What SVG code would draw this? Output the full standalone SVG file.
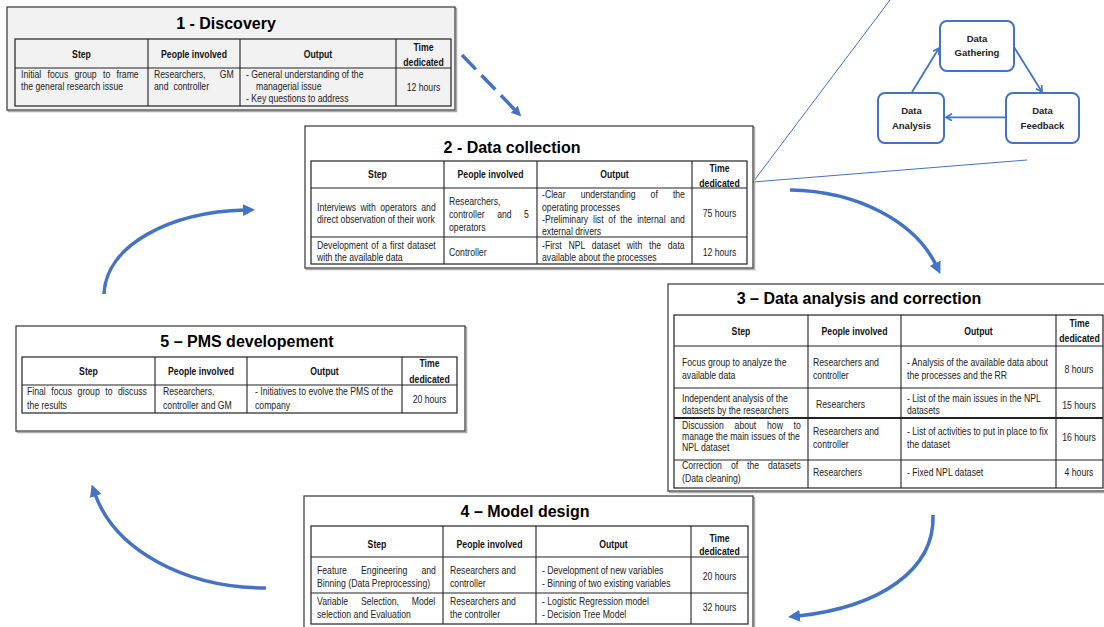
<svg xmlns="http://www.w3.org/2000/svg" width="1104" height="627" viewBox="0 0 1104 627">
<style>
text{font-family:"Liberation Sans",Arial,sans-serif}
.outer{fill:#fff;stroke:#444;stroke-width:1.3}
.shadow{fill:none;stroke:#aaa;stroke-width:1.5}
.tbl{fill:none;stroke:#222;stroke-width:1.2}
.ln{stroke:#222;stroke-width:1.1}
.ttl{font-weight:bold;font-size:16px;text-anchor:middle;fill:#000}
.th{font-weight:bold;font-size:10.2px;text-anchor:middle;fill:#111}
.td{font-size:10.2px;fill:#222}
.tc{text-anchor:middle}
.cyc{fill:#fff;stroke:#4472c4;stroke-width:2}
.ct{font-weight:bold;font-size:9.5px;text-anchor:middle;fill:#222}
.arr{fill:none;stroke:#4472c4;stroke-width:3.5}
.thin{fill:none;stroke:#4472c4;stroke-width:1.8}
.zoom{fill:none;stroke:#4472c4;stroke-width:1}
</style>
<defs>
<marker id="ah" markerUnits="userSpaceOnUse" markerWidth="12" markerHeight="12" refX="2" refY="6" orient="auto"><path d="M0,0 L12,6 L0,12 z" fill="#4472c4"/></marker>
<marker id="ah2" markerUnits="userSpaceOnUse" markerWidth="10" markerHeight="10" refX="1" refY="5" orient="auto"><path d="M0,0 L10,5 L0,10 z" fill="#4472c4"/></marker>
<marker id="ah3" markerUnits="userSpaceOnUse" markerWidth="9" markerHeight="9" refX="7" refY="4" orient="auto"><path d="M1,0.5 L7,4 L1,7.5" fill="none" stroke="#4472c4" stroke-width="1.6"/></marker>
</defs>

<g id="connectors">
<path class="zoom" d="M753,182 L890,0"/>
<path class="zoom" d="M753,182 L1027,160"/>
<path class="arr" d="M462,55 L515,110" stroke-width="2.7" stroke-dasharray="20 8" marker-end="url(#ah2)"/>
<path class="arr" d="M790,190 C858,191 915,222 936,265" marker-end="url(#ah)"/>
<path class="arr" d="M933,515 C935,570 880,607 798,616" marker-end="url(#ah)"/>
<path class="arr" d="M266,588 C185,588 115,550 95,494" marker-end="url(#ah)"/>
<path class="arr" d="M104,294 C106,245 170,212 245,210" marker-end="url(#ah)"/>
<path class="thin" d="M912,92 L939,48" marker-end="url(#ah3)"/>
<path class="thin" d="M1014,47 L1042,92" marker-end="url(#ah3)"/>
<path class="thin" d="M1006,117.3 L946,117.3" marker-end="url(#ah3)"/>
</g>

<g id="discovery">
<rect class="shadow" x="8.5" y="8.5" width="448" height="103"/>
<rect class="outer" x="7" y="7" width="448" height="103" style="fill:#f2f2f2"/>
<text class="ttl" x="226" y="29">1 - Discovery</text>
<rect class="tbl" x="15" y="39" width="436" height="67" stroke-width="1.6"/>
<path class="ln" d="M148,39V106M240,39V106M396,39V106M15,68H451"/>
<text class="th" transform="matrix(.85 0 0 1 81.5 57.5)">Step</text>
<text class="th" transform="matrix(.85 0 0 1 194 57.5)">People involved</text>
<text class="th" transform="matrix(.85 0 0 1 318 57.5)">Output</text>
<text class="th" transform="matrix(.85 0 0 1 423.5 50.5)">Time</text>
<text class="th" transform="matrix(.85 0 0 1 423.5 65.5)">dedicated</text>
<text class="td" transform="matrix(.85 0 0 1 21 78)" style="word-spacing:4.6px">Initial focus group to frame</text>
<text class="td" transform="matrix(.85 0 0 1 21 90)">the general research issue</text>
<text class="td" transform="matrix(.85 0 0 1 154 78)" style="word-spacing:14px">Researchers, GM</text>
<text class="td" transform="matrix(.85 0 0 1 154 90)" style="word-spacing:3px">and controller</text>
<text class="td" transform="matrix(.85 0 0 1 246 78)">- General understanding of the</text>
<text class="td" transform="matrix(.85 0 0 1 256 90)">managerial issue</text>
<text class="td" transform="matrix(.85 0 0 1 246 101.5)">- Key questions to address</text>
<text class="td tc" transform="matrix(.85 0 0 1 423.5 90.5)">12 hours</text>
</g>

<g id="data-collection">
<rect class="shadow" x="306.5" y="127.5" width="448" height="142"/>
<rect class="outer" x="305" y="126" width="448" height="142"/>
<text class="ttl" x="512" y="153">2 - Data collection</text>
<rect class="tbl" x="311" y="161" width="436" height="103"/>
<path class="ln" d="M444,161V264M537,161V264M692,161V264M311,188H747M311,237H747"/>
<text class="th" transform="matrix(.85 0 0 1 377.5 178)">Step</text>
<text class="th" transform="matrix(.85 0 0 1 490.5 178)">People involved</text>
<text class="th" transform="matrix(.85 0 0 1 614.5 178)">Output</text>
<text class="th" transform="matrix(.85 0 0 1 719.5 171.5)">Time</text>
<text class="th" transform="matrix(.85 0 0 1 719.5 186.5)">dedicated</text>
<text class="td" transform="matrix(.85 0 0 1 317 211)" style="word-spacing:2.4px">Interviews with operators and</text>
<text class="td" transform="matrix(.85 0 0 1 317 223)">direct observation of their work</text>
<text class="td" transform="matrix(.85 0 0 1 449 204.5)">Researchers,</text>
<text class="td" transform="matrix(.85 0 0 1 449 217.5)" style="word-spacing:11.9px">controller and 5</text>
<text class="td" transform="matrix(.85 0 0 1 449 230.5)">operators</text>
<text class="td" transform="matrix(.85 0 0 1 542 198)" style="word-spacing:14.9px">-Clear understanding of the</text>
<text class="td" transform="matrix(.85 0 0 1 542 211)">operating processes</text>
<text class="td" transform="matrix(.85 0 0 1 542 223)" style="word-spacing:2.8px">-Preliminary list of the internal and</text>
<text class="td" transform="matrix(.85 0 0 1 542 235)">external drivers</text>
<text class="td tc" transform="matrix(.85 0 0 1 719.5 216.5)">75 hours</text>
<text class="td" transform="matrix(.85 0 0 1 317 249)" style="word-spacing:1.1px">Development of a first dataset</text>
<text class="td" transform="matrix(.85 0 0 1 317 261)">with the available data</text>
<text class="td" transform="matrix(.85 0 0 1 449 255.5)">Controller</text>
<text class="td" transform="matrix(.85 0 0 1 542 249)" style="word-spacing:5.1px">-First NPL dataset with the data</text>
<text class="td" transform="matrix(.85 0 0 1 542 261)">available about the processes</text>
<text class="td tc" transform="matrix(.85 0 0 1 719.5 255.5)">12 hours</text>
</g>

<g id="data-analysis">
<rect class="shadow" x="669.5" y="285.5" width="440" height="207"/>
<rect class="outer" x="668" y="284" width="440" height="207"/>
<text class="ttl" x="859" y="304">3 – Data analysis and correction</text>
<rect class="tbl" x="674" y="315" width="429" height="173"/>
<path class="ln" d="M808,315V488M901,315V488M1056,315V488M674,346H1103M674,388H1103M674,460H1103"/>
<path d="M674,418H1103" stroke="#222" stroke-width="2"/>
<text class="th" transform="matrix(.85 0 0 1 741 334.5)">Step</text>
<text class="th" transform="matrix(.85 0 0 1 854.5 334.5)">People involved</text>
<text class="th" transform="matrix(.85 0 0 1 978.5 334.5)">Output</text>
<text class="th" transform="matrix(.85 0 0 1 1079.5 326.5)">Time</text>
<text class="th" transform="matrix(.85 0 0 1 1079.5 341.5)">dedicated</text>
<text class="td" transform="matrix(.85 0 0 1 682 366)">Focus group to analyze the</text>
<text class="td" transform="matrix(.85 0 0 1 682 379)">available data</text>
<text class="td" transform="matrix(.85 0 0 1 813 366)">Researchers and</text>
<text class="td" transform="matrix(.85 0 0 1 813 379)">controller</text>
<text class="td" transform="matrix(.85 0 0 1 907 366)">- Analysis of the available data about</text>
<text class="td" transform="matrix(.85 0 0 1 907 379)">the processes and the RR</text>
<text class="td tc" transform="matrix(.85 0 0 1 1079 372.5)">8 hours</text>
<text class="td" transform="matrix(.85 0 0 1 682 401.5)">Independent analysis of the</text>
<text class="td" transform="matrix(.85 0 0 1 682 414)">datasets by the researchers</text>
<text class="td" transform="matrix(.85 0 0 1 816 407.5)">Researchers</text>
<text class="td" transform="matrix(.85 0 0 1 907 401.5)">- List of the main issues in the NPL</text>
<text class="td" transform="matrix(.85 0 0 1 907 414)">datasets</text>
<text class="td tc" transform="matrix(.85 0 0 1 1079 408.5)">15 hours</text>
<text class="td" transform="matrix(.85 0 0 1 682 429)" style="word-spacing:9.8px">Discussion about how to</text>
<text class="td" transform="matrix(.85 0 0 1 682 440)">manage the main issues of the</text>
<text class="td" transform="matrix(.85 0 0 1 682 451)">NPL dataset</text>
<text class="td" transform="matrix(.85 0 0 1 813 435)">Researchers and</text>
<text class="td" transform="matrix(.85 0 0 1 813 447.5)">controller</text>
<text class="td" transform="matrix(.85 0 0 1 907 435)">- List of activities to put in place to fix</text>
<text class="td" transform="matrix(.85 0 0 1 907 447.5)">the dataset</text>
<text class="td tc" transform="matrix(.85 0 0 1 1079 441)">16 hours</text>
<text class="td" transform="matrix(.85 0 0 1 682 468.5)" style="word-spacing:7.7px">Correction of the datasets</text>
<text class="td" transform="matrix(.85 0 0 1 682 481.5)">(Data cleaning)</text>
<text class="td" transform="matrix(.85 0 0 1 813 476)">Researchers</text>
<text class="td" transform="matrix(.85 0 0 1 907 476)">- Fixed NPL dataset</text>
<text class="td tc" transform="matrix(.85 0 0 1 1079 476)">4 hours</text>
</g>

<g id="model-design">
<rect class="shadow" x="305.5" y="497.5" width="449" height="140"/>
<rect class="outer" x="304" y="496" width="449" height="140"/>
<text class="ttl" x="525" y="517">4 – Model design</text>
<rect class="tbl" x="311" y="526" width="437" height="98"/>
<path class="ln" d="M443,526V624M536,526V624M691,526V624M311,557H748M311,593H748"/>
<text class="th" transform="matrix(.85 0 0 1 377 547.5)">Step</text>
<text class="th" transform="matrix(.85 0 0 1 489.5 547.5)">People involved</text>
<text class="th" transform="matrix(.85 0 0 1 613.5 547.5)">Output</text>
<text class="th" transform="matrix(.85 0 0 1 719.5 541.5)">Time</text>
<text class="th" transform="matrix(.85 0 0 1 719.5 555)">dedicated</text>
<text class="td" transform="matrix(.85 0 0 1 317 573.5)" style="word-spacing:13.9px">Feature Engineering and</text>
<text class="td" transform="matrix(.85 0 0 1 317 586.5)">Binning (Data Preprocessing)</text>
<text class="td" transform="matrix(.85 0 0 1 450 573.5)">Researchers and</text>
<text class="td" transform="matrix(.85 0 0 1 450 586.5)">controller</text>
<text class="td" transform="matrix(.85 0 0 1 542 573.5)">- Development of new variables</text>
<text class="td" transform="matrix(.85 0 0 1 542 586.5)">- Binning of two existing variables</text>
<text class="td tc" transform="matrix(.85 0 0 1 719.5 579.5)">20 hours</text>
<text class="td" transform="matrix(.85 0 0 1 317 604.5)" style="word-spacing:12.2px">Variable Selection, Model</text>
<text class="td" transform="matrix(.85 0 0 1 317 617.5)">selection and Evaluation</text>
<text class="td" transform="matrix(.85 0 0 1 450 604.5)">Researchers and</text>
<text class="td" transform="matrix(.85 0 0 1 450 617.5)">the controller</text>
<text class="td" transform="matrix(.85 0 0 1 542 604.5)">- Logistic Regression model</text>
<text class="td" transform="matrix(.85 0 0 1 542 617.5)">- Decision Tree Model</text>
<text class="td tc" transform="matrix(.85 0 0 1 719.5 610.5)">32 hours</text>
</g>

<g id="pms-development">
<rect class="shadow" x="17.5" y="327.5" width="449" height="105"/>
<rect class="outer" x="16" y="326" width="449" height="105"/>
<text class="ttl" x="247" y="347">5 – PMS developement</text>
<rect class="tbl" x="22" y="357" width="435" height="56"/>
<path class="ln" d="M155,357V413M247,357V413M402,357V413M22,385H457"/>
<text class="th" transform="matrix(.85 0 0 1 88.5 375)">Step</text>
<text class="th" transform="matrix(.85 0 0 1 201 375)">People involved</text>
<text class="th" transform="matrix(.85 0 0 1 324.5 375)">Output</text>
<text class="th" transform="matrix(.85 0 0 1 429.5 366.5)">Time</text>
<text class="th" transform="matrix(.85 0 0 1 429.5 382.5)">dedicated</text>
<text class="td" transform="matrix(.85 0 0 1 27 395)" style="word-spacing:3.7px">Final focus group to discuss</text>
<text class="td" transform="matrix(.85 0 0 1 27 409)">the results</text>
<text class="td" transform="matrix(.85 0 0 1 163 395)">Researchers,</text>
<text class="td" transform="matrix(.85 0 0 1 163 409)">controller and GM</text>
<text class="td" transform="matrix(.85 0 0 1 255 395)">- Initiatives to evolve the PMS of the</text>
<text class="td" transform="matrix(.85 0 0 1 255 409)">company</text>
<text class="td tc" transform="matrix(.85 0 0 1 429.5 402.5)">20 hours</text>
</g>

<g id="cycle-gathering">
<rect class="cyc" x="940" y="21" width="74" height="50" rx="7"/>
<text class="ct" x="977" y="42">Data</text>
<text class="ct" x="977" y="56">Gathering</text>
</g>
<g id="cycle-analysis">
<rect class="cyc" x="878" y="93" width="66" height="50" rx="7"/>
<text class="ct" x="911.5" y="114">Data</text>
<text class="ct" x="911.5" y="129">Analysis</text>
</g>
<g id="cycle-feedback">
<rect class="cyc" x="1006" y="93" width="73" height="50" rx="7"/>
<text class="ct" x="1042.5" y="114">Data</text>
<text class="ct" x="1042.5" y="129">Feedback</text>
</g>
</svg>
